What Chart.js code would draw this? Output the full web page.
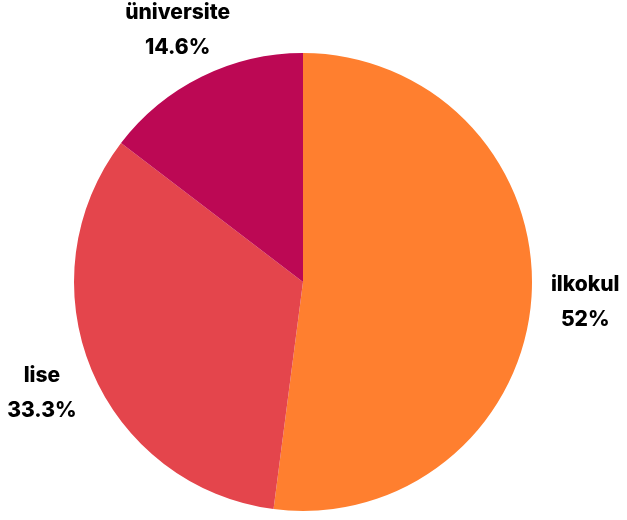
<!DOCTYPE html>
<html>
<head>
<meta charset="utf-8">
<script src="https://cdn.jsdelivr.net/npm/chart.js@4"></script>
<style>
  html, body { margin: 0; padding: 0; background: #fff; }
  #wrap { width: 627px; height: 520px; }
</style>
</head>
<body>
<div id="wrap"><canvas id="pieChart" width="627" height="520"></canvas></div>
<script>
// veriler
const categories = ['ilkokul', 'lise', 'üniversite'];
const values = [52, 33.3, 14.6];
const valueLabels = ['52%', '33.3%', '14.6%'];
const colors = ['#FF7F2F', '#E4454C', '#BC0854'];

// dilimlerin dışına etiket yaz
const outsideLabels = {
    id: 'outsideLabels',
    afterDatasetsDraw(chart) {
        const ctx = chart.ctx;
        const meta = chart.getDatasetMeta(0);
        ctx.save();
        ctx.fillStyle = '#000';
        ctx.font = '800 21px Inter, Roboto, sans-serif';
        ctx.textAlign = 'center';
        ctx.textBaseline = 'middle';
        meta.data.forEach((arc, i) => {
            const mid = (arc.startAngle + arc.endAngle) / 2;
            const d = arc.outerRadius * 1.235;
            const x = arc.x + Math.cos(mid) * d;
            const y = arc.y + Math.sin(mid) * d;
            ctx.fillText(categories[i], x, y - 15.5);
            ctx.fillText(valueLabels[i], x, y + 19.5);
        });
        ctx.restore();
    }
};

const ctx = document.getElementById('pieChart').getContext('2d');
const pieChart = new Chart(ctx, {
    type: 'pie',
    data: {
        labels: categories,
        datasets: [{
            data: values,
            backgroundColor: colors,
            borderWidth: 0
        }]
    },
    options: {
        responsive: false,
        animation: false,
        layout: {
            padding: { top: 53, bottom: 9, left: 74, right: 95 }
        },
        plugins: {
            legend: { display: false },
            tooltip: { enabled: false }
        }
    },
    plugins: [outsideLabels]
});
</script>
</body>
</html>
